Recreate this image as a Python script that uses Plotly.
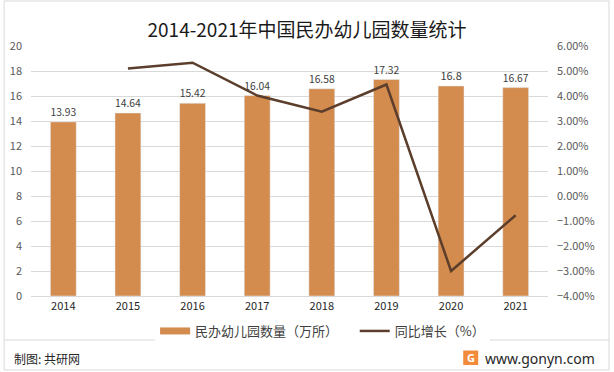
import plotly.graph_objects as go

years = ["2014", "2015", "2016", "2017", "2018", "2019", "2020", "2021"]
counts = [13.93, 14.64, 15.42, 16.04, 16.58, 17.32, 16.8, 16.67]
growth_years = ["2015", "2016", "2017", "2018", "2019", "2020", "2021"]
growth = [0.0510, 0.0533, 0.0402, 0.0337, 0.0446, -0.0300, -0.0077]

FONT = "Noto Sans CJK SC"
BAR_COLOR = "#D38B4E"
LINE_COLOR = "#5B3E2B"
fig = go.Figure()
fig.add_trace(go.Bar(
    x=years, y=counts, name="民办幼儿园数量（万所）", showlegend=False,
    marker=dict(color=BAR_COLOR), width=0.4,
    text=[f"{v:g}" for v in counts], textposition="outside",
    textfont=dict(size=11, color="#404040", family=FONT), cliponaxis=False,
))
# legend-only entry for the bars (wide rectangle symbol)
fig.add_trace(go.Scatter(
    x=[None], y=[None], name="民办幼儿园数量（万所）\u00a0\u00a0\u00a0\u00a0", mode="lines",
    line=dict(color=BAR_COLOR, width=7),
))
fig.add_trace(go.Scatter(
    x=growth_years, y=growth, name="同比增长（%）", yaxis="y2",
    mode="lines", line=dict(color=LINE_COLOR, width=2.5),
))

fig.update_layout(
    width=614, height=372,
    margin=dict(l=31, r=66, t=46, b=76, autoexpand=False),
    paper_bgcolor="white", plot_bgcolor="white",
    font=dict(family=FONT, color="#595959", size=11),
    title=dict(text="2014-2021年中国民办幼儿园数量统计", x=0.5, xanchor="center",
               y=0.918, yanchor="middle", font=dict(size=19, color="#1a1a1a", family=FONT)),
    bargap=0.6,
    xaxis=dict(type="category", showgrid=False, showline=True, linecolor="#d9d9d9",
               ticks="", tickfont=dict(size=11, color="#262626"), automargin=False),
    yaxis=dict(range=[0, 20], dtick=2, showgrid=True, gridcolor="#d9d9d9",
               zeroline=False, tickfont=dict(size=11, color="#595959"), ticklabelstandoff=8,
               automargin=False),
    yaxis2=dict(range=[-0.04, 0.06], dtick=0.01, tickformat=".2%", overlaying="y",
                side="right", showgrid=False, zeroline=False,
                tickfont=dict(size=11, color="#595959"), ticklabelstandoff=8,
                automargin=False),
    legend=dict(orientation="h", x=0.24, xanchor="left", y=-0.14, yanchor="middle",
                font=dict(size=13, color="#404040"), itemwidth=30, tracegroupgap=0),
    showlegend=True,
)

# separator line and outer border
fig.add_shape(type="line", xref="paper", yref="paper", x0=-0.052, x1=1.118,
              y0=-0.176, y1=-0.176, line=dict(color="#d9d9d9", width=1))
fig.add_shape(type="rect", xref="paper", yref="paper", x0=-0.052, x1=1.118,
              y0=-0.296, y1=1.18, line=dict(color="#d9d9d9", width=1))

fig.add_annotation(text="制图: 共研网", xref="paper", yref="paper", x=-0.036, y=-0.248,
                   xanchor="left", yanchor="middle", showarrow=False,
                   font=dict(size=12, color="#262626"))
fig.add_annotation(text="www.gonyn.com", xref="paper", yref="paper", x=1.095, y=-0.248,
                   xanchor="right", yanchor="middle", showarrow=False,
                   font=dict(size=14, color="#262626", family="Noto Sans"))
# logo
fig.add_shape(type="rect", xref="paper", yref="paper", x0=0.836, x1=0.865,
              y0=-0.276, y1=-0.218, fillcolor="#F28C3B", line=dict(width=0))
fig.add_annotation(text="<b>G</b>", xref="paper", yref="paper", x=0.8505, y=-0.247,
                   xanchor="center", yanchor="middle", showarrow=False,
                   font=dict(size=11, color="white", family="Noto Sans"))

fig.write_html("out.html", post_script="document.body.style.margin='0';",
               config={"displayModeBar": False})
